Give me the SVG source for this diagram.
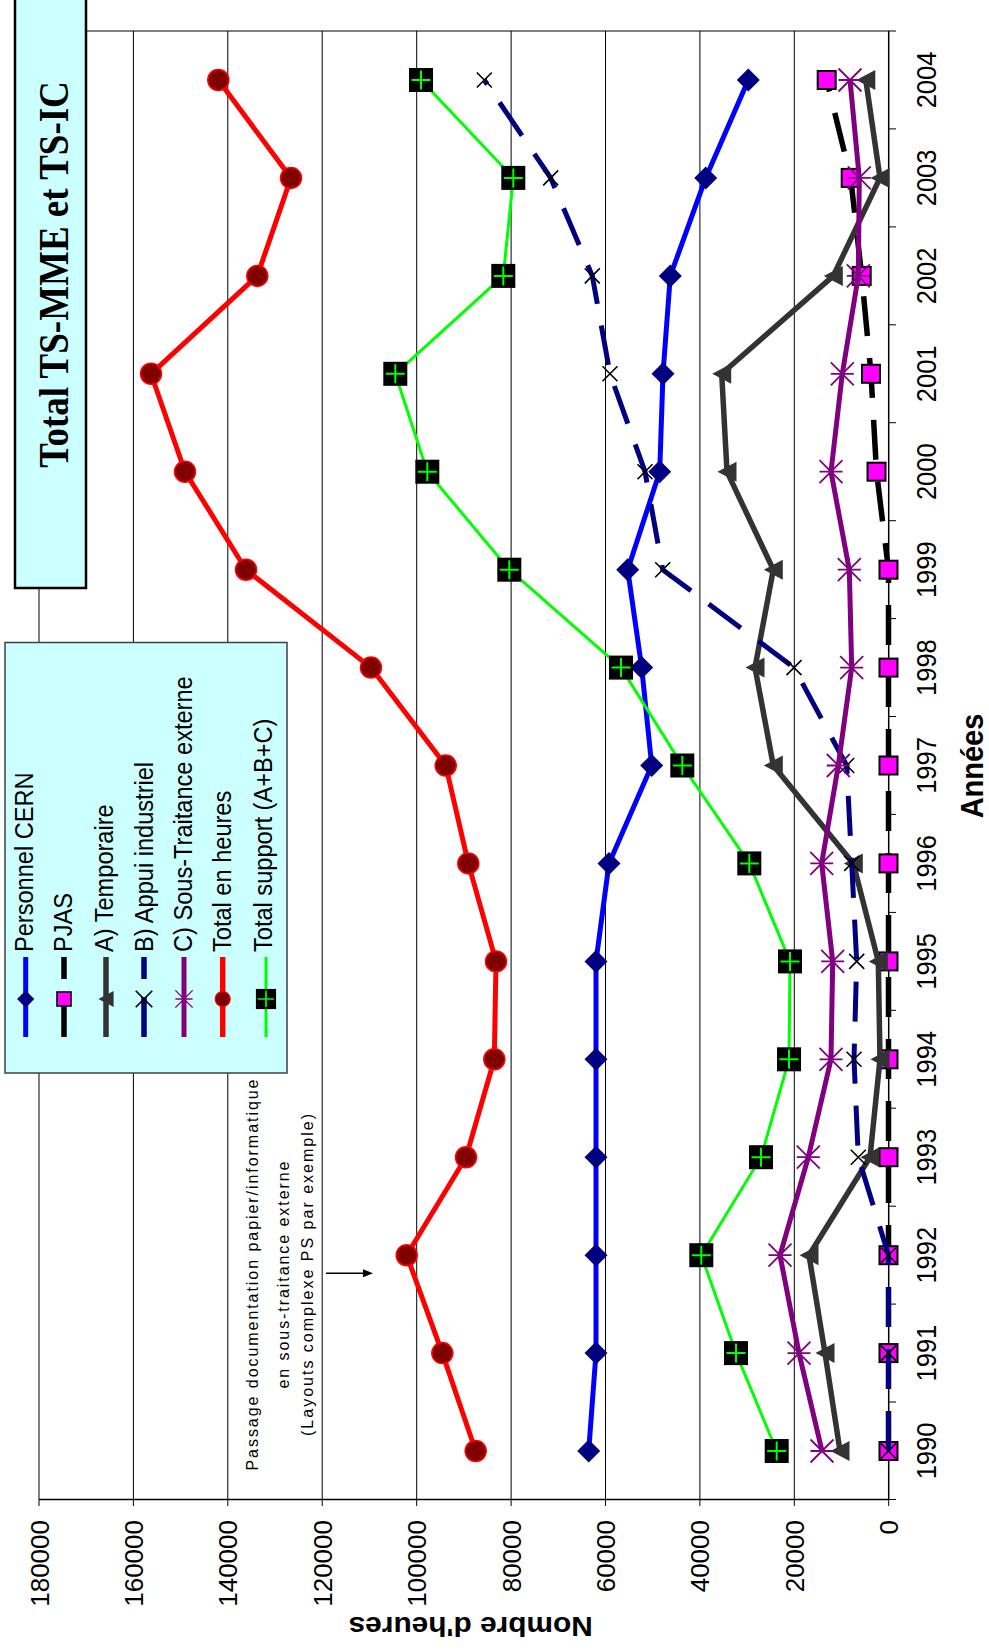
<svg xmlns="http://www.w3.org/2000/svg" width="989" height="1650" viewBox="0 0 989 1650">
<style>
.t{font-family:"Liberation Sans",Arial,sans-serif;fill:#000}
.b{font-weight:bold}
.grid{stroke:#000;stroke-width:1;fill:none}
.ax{stroke:#000;stroke-width:1.5;fill:none}
.ser{fill:none;stroke-linejoin:round}
.yr{font-size:25.5px;text-anchor:middle}
.val{font-size:26px;text-anchor:end}
.leg{font-size:23.6px}
.ann{font-size:16px;text-anchor:middle}
</style>
<defs>
<path id="dia" d="M-11.5,0 L0,-11.5 L11.5,0 L0,11.5Z" fill="#000080"/>
<rect id="sq" x="-9" y="-9" width="18" height="18" fill="#FF00FF" stroke="#000" stroke-width="2"/>
<path id="tri" d="M-9.5,0 L9.5,-10 L9.5,10Z" fill="#333333"/>
<path id="xm" d="M-7.5,-7.5 L7.5,7.5 M-7.5,7.5 L7.5,-7.5" stroke="#000" stroke-width="1.6" fill="none"/>
<path id="star" d="M-11.5,0 H11.5 M-11.5,-11.5 L11.5,11.5 M-11.5,11.5 L11.5,-11.5" stroke="#800080" stroke-width="1.8" fill="none"/>
<circle id="dot" r="10.5" fill="#800000" stroke="#FF0000" stroke-width="1.5"/>
<g id="gsq"><rect x="-12" y="-12" width="24" height="24" fill="#000"/><path d="M-9.5,0 H9.5 M0,-9.5 V9.5" stroke="#00FF00" stroke-width="2"/></g>
<marker id="arr" markerWidth="10" markerHeight="8" refX="0" refY="4" orient="auto" markerUnits="userSpaceOnUse"><path d="M0,0 L10,4 L0,8Z" fill="#000"/></marker>
</defs>

<rect x="0" y="0" width="989" height="1650" fill="#fff"/>

<g id="gridlines">
<path class="grid" d="M39,31V1499.5 M133.4,31V1499.5 M227.8,31V1499.5 M322.2,31V1499.5 M416.7,31V1499.5 M511.1,31V1499.5 M605.5,31V1499.5 M699.9,31V1499.5 M794.3,31V1499.5"/>
<path class="grid" d="M39,31H889"/>
</g>

<g id="axes">
<path class="ax" d="M888.7,31V1499.5 M39,1499.5H888.7"/>
<path class="grid" d="M888.7,31H896 M888.7,128.9H896 M888.7,226.9H896 M888.7,324.8H896 M888.7,422.7H896 M888.7,520.7H896 M888.7,618.6H896 M888.7,716.5H896 M888.7,814.4H896 M888.7,912.4H896 M888.7,1010.3H896 M888.7,1108.2H896 M888.7,1206.2H896 M888.7,1304.1H896 M888.7,1402H896 M888.7,1499.5H896"/>
<path class="grid" d="M39,1499.5V1506 M133.4,1499.5V1506 M227.8,1499.5V1506 M322.2,1499.5V1506 M416.7,1499.5V1506 M511.1,1499.5V1506 M605.5,1499.5V1506 M699.9,1499.5V1506 M794.3,1499.5V1506 M888.7,1499.5V1506"/>
<g class="t val">
<text transform="translate(48.5,1520) rotate(-90)">180000</text>
<text transform="translate(142.9,1520) rotate(-90)">160000</text>
<text transform="translate(237.3,1520) rotate(-90)">140000</text>
<text transform="translate(331.7,1520) rotate(-90)">120000</text>
<text transform="translate(426.2,1520) rotate(-90)">100000</text>
<text transform="translate(520.6,1520) rotate(-90)">80000</text>
<text transform="translate(615,1520) rotate(-90)">60000</text>
<text transform="translate(709.4,1520) rotate(-90)">40000</text>
<text transform="translate(803.8,1520) rotate(-90)">20000</text>
<text transform="translate(898.2,1520) rotate(-90)">0</text>
</g>
<g class="t yr">
<text transform="translate(935.5,1451) rotate(-90) scale(1,1.12)">1990</text>
<text transform="translate(935.5,1353.1) rotate(-90) scale(1,1.12)">1991</text>
<text transform="translate(935.5,1255.2) rotate(-90) scale(1,1.12)">1992</text>
<text transform="translate(935.5,1157.2) rotate(-90) scale(1,1.12)">1993</text>
<text transform="translate(935.5,1059.3) rotate(-90) scale(1,1.12)">1994</text>
<text transform="translate(935.5,961.4) rotate(-90) scale(1,1.12)">1995</text>
<text transform="translate(935.5,863.4) rotate(-90) scale(1,1.12)">1996</text>
<text transform="translate(935.5,765.5) rotate(-90) scale(1,1.12)">1997</text>
<text transform="translate(935.5,667.6) rotate(-90) scale(1,1.12)">1998</text>
<text transform="translate(935.5,569.7) rotate(-90) scale(1,1.12)">1999</text>
<text transform="translate(935.5,471.7) rotate(-90) scale(1,1.12)">2000</text>
<text transform="translate(935.5,373.8) rotate(-90) scale(1,1.12)">2001</text>
<text transform="translate(935.5,275.9) rotate(-90) scale(1,1.12)">2002</text>
<text transform="translate(935.5,177.9) rotate(-90) scale(1,1.12)">2003</text>
<text transform="translate(935.5,80) rotate(-90) scale(1,1.12)">2004</text>
</g>
<text class="t b" font-size="29" text-anchor="middle" transform="translate(982.5,766) rotate(-90) scale(1,1.07)">Années</text>
<text class="t b" font-size="28" text-anchor="middle" textLength="244" lengthAdjust="spacingAndGlyphs" transform="translate(470.7,1617) rotate(180)">Nombre d'heures</text>
</g>

<g id="connectors">
<g id="s-personnel">
<polyline class="ser" stroke="#0000FF" stroke-width="5" points="588.7,1451 596,1353.1 596,1255.2 596,1157.2 596,1059.3 596,961.4 609,863.4 651.7,765.5 641.7,667.6 627.7,569.7 659.7,471.7 663,373.8 670.3,275.9 705.7,177.9 748.3,80"/>
<use href="#dia" x="588.7" y="1451"/><use href="#dia" x="596" y="1353.1"/><use href="#dia" x="596" y="1255.2"/><use href="#dia" x="596" y="1157.2"/><use href="#dia" x="596" y="1059.3"/><use href="#dia" x="596" y="961.4"/><use href="#dia" x="609" y="863.4"/><use href="#dia" x="651.7" y="765.5"/><use href="#dia" x="641.7" y="667.6"/><use href="#dia" x="627.7" y="569.7"/><use href="#dia" x="659.7" y="471.7"/><use href="#dia" x="663" y="373.8"/><use href="#dia" x="670.3" y="275.9"/><use href="#dia" x="705.7" y="177.9"/><use href="#dia" x="748.3" y="80"/>
</g>
<g id="s-pjas">
<polyline class="ser" stroke="#000" stroke-width="5.5" stroke-dasharray="40 22" points="888.5,1451 888.5,1353.1 888.5,1255.2 888.5,1157.2 888.5,1059.3 888.5,961.4 888.5,863.4 888.5,765.5 888.5,667.6 888.5,569.7 876.5,471.7 871,373.8 861.7,275.9 850.7,177.9 826.7,80"/>
<use href="#sq" x="888.5" y="1451"/><use href="#sq" x="888.5" y="1353.1"/><use href="#sq" x="888.5" y="1255.2"/><use href="#sq" x="888.5" y="1157.2"/><use href="#sq" x="888.5" y="1059.3"/><use href="#sq" x="888.5" y="961.4"/><use href="#sq" x="888.5" y="863.4"/><use href="#sq" x="888.5" y="765.5"/><use href="#sq" x="888.5" y="667.6"/><use href="#sq" x="888.5" y="569.7"/><use href="#sq" x="876.5" y="471.7"/><use href="#sq" x="871" y="373.8"/><use href="#sq" x="861.7" y="275.9"/><use href="#sq" x="850.7" y="177.9"/><use href="#sq" x="826.7" y="80"/>
</g>
<g id="s-temporaire">
<polyline class="ser" stroke="#333333" stroke-width="5.5" points="840,1451 825,1353.1 809,1255.2 870,1157.2 880,1059.3 878.3,961.4 853.3,863.4 773.3,765.5 755,667.6 773.3,569.7 727,471.7 721.7,373.8 833.3,275.9 880,177.9 865.8,80"/>
<use href="#tri" x="840" y="1451"/><use href="#tri" x="825" y="1353.1"/><use href="#tri" x="809" y="1255.2"/><use href="#tri" x="870" y="1157.2"/><use href="#tri" x="880" y="1059.3"/><use href="#tri" x="878.3" y="961.4"/><use href="#tri" x="853.3" y="863.4"/><use href="#tri" x="773.3" y="765.5"/><use href="#tri" x="755" y="667.6"/><use href="#tri" x="773.3" y="569.7"/><use href="#tri" x="727" y="471.7"/><use href="#tri" x="721.7" y="373.8"/><use href="#tri" x="833.3" y="275.9"/><use href="#tri" x="880" y="177.9"/><use href="#tri" x="865.8" y="80"/>
</g>
<g id="s-appui">
<polyline class="ser" stroke="#000080" stroke-width="5" stroke-dasharray="40 22" points="888.5,1451 888.5,1353.1 888.5,1255.2 858.3,1157.2 854,1059.3 856.7,961.4 851.7,863.4 846.7,765.5 794,667.6 662.7,569.7 645,471.7 610,373.8 592.3,275.9 550.7,177.9 484.3,80"/>
<use href="#xm" x="888.5" y="1451"/><use href="#xm" x="888.5" y="1353.1"/><use href="#xm" x="888.5" y="1255.2"/><use href="#xm" x="858.3" y="1157.2"/><use href="#xm" x="854" y="1059.3"/><use href="#xm" x="856.7" y="961.4"/><use href="#xm" x="851.7" y="863.4"/><use href="#xm" x="846.7" y="765.5"/><use href="#xm" x="794" y="667.6"/><use href="#xm" x="662.7" y="569.7"/><use href="#xm" x="645" y="471.7"/><use href="#xm" x="610" y="373.8"/><use href="#xm" x="592.3" y="275.9"/><use href="#xm" x="550.7" y="177.9"/><use href="#xm" x="484.3" y="80"/>
</g>
<g id="s-soustraitance">
<polyline class="ser" stroke="#800080" stroke-width="5" points="822,1451 799,1353.1 780,1255.2 808.3,1157.2 831,1059.3 832.7,961.4 821.7,863.4 838.3,765.5 851.7,667.6 849.3,569.7 831,471.7 842.3,373.8 858.3,275.9 859.3,177.9 850,80"/>
<use href="#star" x="822" y="1451"/><use href="#star" x="799" y="1353.1"/><use href="#star" x="780" y="1255.2"/><use href="#star" x="808.3" y="1157.2"/><use href="#star" x="831" y="1059.3"/><use href="#star" x="832.7" y="961.4"/><use href="#star" x="821.7" y="863.4"/><use href="#star" x="838.3" y="765.5"/><use href="#star" x="851.7" y="667.6"/><use href="#star" x="849.3" y="569.7"/><use href="#star" x="831" y="471.7"/><use href="#star" x="842.3" y="373.8"/><use href="#star" x="858.3" y="275.9"/><use href="#star" x="859.3" y="177.9"/><use href="#star" x="850" y="80"/>
</g>
<g id="s-total-heures">
<polyline class="ser" stroke="#FF0000" stroke-width="5" points="475.7,1451 442.3,1353.1 406.7,1255.2 466,1157.2 494.3,1059.3 496,961.4 468.3,863.4 445.7,765.5 371,667.6 246,569.7 185,471.7 151,373.8 257.3,275.9 291,177.9 218.3,80"/>
<use href="#dot" x="475.7" y="1451"/><use href="#dot" x="442.3" y="1353.1"/><use href="#dot" x="406.7" y="1255.2"/><use href="#dot" x="466" y="1157.2"/><use href="#dot" x="494.3" y="1059.3"/><use href="#dot" x="496" y="961.4"/><use href="#dot" x="468.3" y="863.4"/><use href="#dot" x="445.7" y="765.5"/><use href="#dot" x="371" y="667.6"/><use href="#dot" x="246" y="569.7"/><use href="#dot" x="185" y="471.7"/><use href="#dot" x="151" y="373.8"/><use href="#dot" x="257.3" y="275.9"/><use href="#dot" x="291" y="177.9"/><use href="#dot" x="218.3" y="80"/>
</g>
<g id="s-total-support">
<polyline class="ser" stroke="#00FF00" stroke-width="3" points="776.7,1451 736,1353.1 701.3,1255.2 761,1157.2 789,1059.3 790,961.4 749.3,863.4 682.3,765.5 621,667.6 509.3,569.7 427.3,471.7 395.3,373.8 503.3,275.9 513.3,177.9 421,80"/>
<use href="#gsq" x="776.7" y="1451"/><use href="#gsq" x="736" y="1353.1"/><use href="#gsq" x="701.3" y="1255.2"/><use href="#gsq" x="761" y="1157.2"/><use href="#gsq" x="789" y="1059.3"/><use href="#gsq" x="790" y="961.4"/><use href="#gsq" x="749.3" y="863.4"/><use href="#gsq" x="682.3" y="765.5"/><use href="#gsq" x="621" y="667.6"/><use href="#gsq" x="509.3" y="569.7"/><use href="#gsq" x="427.3" y="471.7"/><use href="#gsq" x="395.3" y="373.8"/><use href="#gsq" x="503.3" y="275.9"/><use href="#gsq" x="513.3" y="177.9"/><use href="#gsq" x="421" y="80"/>
</g>
<line x1="326" y1="1273.3" x2="363" y2="1273.3" stroke="#000" stroke-width="1.5" marker-end="url(#arr)"/>
</g>

<g id="annotation" class="t ann">
<text transform="translate(258.3,1275) rotate(-90)" textLength="391" lengthAdjust="spacing">Passage documentation papier/informatique</text>
<text transform="translate(288.5,1275) rotate(-90)" textLength="227" lengthAdjust="spacing">en sous-traitance externe</text>
<text transform="translate(313.3,1275) rotate(-90)" textLength="322" lengthAdjust="spacing">(Layouts complexe PS par exemple)</text>
</g>

<g id="title">
<rect x="15" y="-10" width="71" height="598" fill="#CCFFFF" stroke="#000" stroke-width="2.5"/>
<text font-family="'Liberation Serif','Times New Roman',serif" font-weight="bold" font-size="37" text-anchor="middle" transform="translate(67.5,274.5) rotate(-90) scale(1,1.12)">Total TS-MME et TS-IC</text>
</g>

<g id="legend">
<rect x="5" y="642.5" width="282" height="430.5" fill="#CCFFFF" stroke="#404040" stroke-width="1.5"/>
<line x1="25.7" y1="1037" x2="25.7" y2="957" stroke="#0000FF" stroke-width="5"/>
<use href="#dia" transform="translate(25.7,999) scale(0.75)"/>
<line x1="64" y1="1037" x2="64" y2="957" stroke="#000" stroke-width="5.5" stroke-dasharray="40 18"/>
<use href="#sq" transform="translate(64,999) scale(0.78)"/>
<line x1="106" y1="1037" x2="106" y2="957" stroke="#333333" stroke-width="5.5"/>
<use href="#tri" transform="translate(106,999) scale(0.8)"/>
<line x1="144" y1="1037" x2="144" y2="957" stroke="#000080" stroke-width="5.5" stroke-dasharray="40 18"/>
<use href="#xm" transform="translate(144,999) scale(1.1)"/>
<line x1="184" y1="1037" x2="184" y2="957" stroke="#800080" stroke-width="5"/>
<use href="#star" transform="translate(184,999) scale(0.75)"/>
<line x1="222.7" y1="1037" x2="222.7" y2="957" stroke="#FF0000" stroke-width="5.5"/>
<use href="#dot" transform="translate(222.7,999) scale(0.72)"/>
<line x1="266" y1="1037" x2="266" y2="957" stroke="#00FF00" stroke-width="3"/>
<use href="#gsq" transform="translate(266,999) scale(0.84)"/>
<g class="t leg">
<text transform="translate(33.3,952) rotate(-90) scale(1,1.08)">Personnel CERN</text>
<text transform="translate(71.7,952) rotate(-90) scale(1,1.08)">PJAS</text>
<text transform="translate(113,952) rotate(-90) scale(1,1.08)">A) Temporaire</text>
<text transform="translate(152.5,952) rotate(-90) scale(1,1.08)">B) Appui industriel</text>
<text transform="translate(191.7,952) rotate(-90) scale(1,1.08)">C) Sous-Traitance externe</text>
<text transform="translate(231,952) rotate(-90) scale(1,1.08)">Total en heures</text>
<text transform="translate(271.5,952) rotate(-90) scale(1,1.08)">Total support (A+B+C)</text>
</g>
</g>
</svg>
